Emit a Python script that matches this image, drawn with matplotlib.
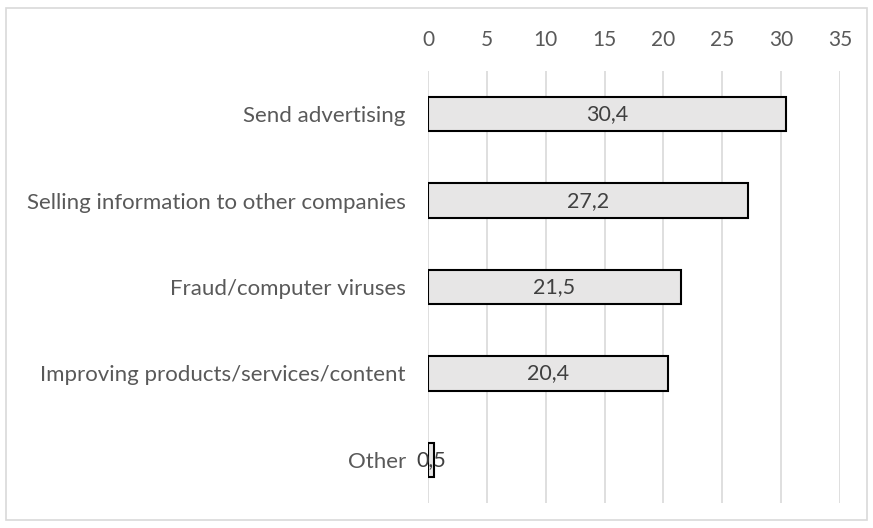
import matplotlib.pyplot as plt
from matplotlib.patches import Rectangle

# Survey shares (%)
categories = ['Send advertising', 'Selling information to other companies',
              'Fraud/computer viruses', 'Improving products/services/content', 'Other']
values = [30.4, 27.2, 21.5, 20.4, 0.5]
labels = ['30,4', '27,2', '21,5', '20,4', '0,5']
ticks = [0, 5, 10, 15, 20, 25, 30, 35]

TEXT = '#595959'
plt.rcParams['font.family'] = ['Lato', 'DejaVu Sans']

fig = plt.figure(figsize=(8.73, 5.28), dpi=100)
ax = fig.add_axes([428 / 873, 1 - 503 / 528, (840 - 428) / 873, (503 - 71) / 528])

y = range(len(categories))
ax.barh(y, values, height=0.4, color='#e7e6e6', edgecolor='black', linewidth=1.5, zorder=3)
for i, (v, lab) in enumerate(zip(values, labels)):
    ax.text(v / 2, i, lab, ha='center', va='center', fontsize=15.5, color='#404040', zorder=4)

ax.set_xlim(0, 35)
ax.set_ylim(len(categories) - 0.5, -0.5)
ax.set_xticks(ticks)
ax.set_yticks(list(y))
ax.set_yticklabels(categories)
ax.xaxis.tick_top()
ax.tick_params(axis='x', length=0, pad=15, labelsize=15, labelcolor=TEXT)
ax.tick_params(axis='y', length=0, pad=16, labelsize=16, labelcolor=TEXT)
ax.grid(axis='x', color='#d9d9d9', linewidth=1.2, zorder=0)
for s in ax.spines.values():
    s.set_visible(False)

# light frame around the whole chart
fig.patches.append(Rectangle((6 / 873, 8 / 528), 1 - 12 / 873, 1 - 16 / 528,
                             transform=fig.transFigure, fill=False,
                             edgecolor='#d9d9d9', linewidth=1.2))

fig.savefig('out.png', dpi=100)
